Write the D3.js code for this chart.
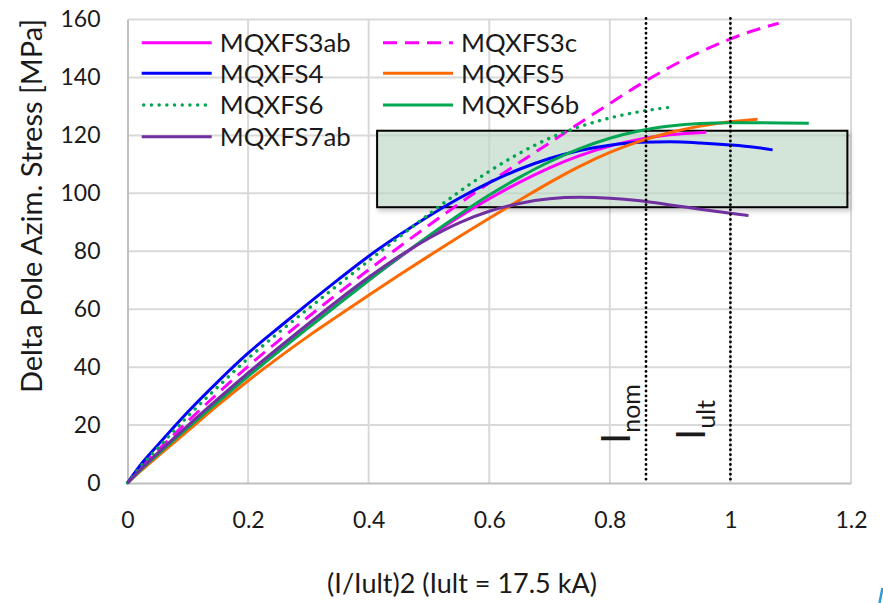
<!DOCTYPE html>
<html><head><meta charset="utf-8">
<script src="https://cdn.jsdelivr.net/npm/d3@7"></script>
<style>
body{margin:0;background:#fff;}
svg{display:block;font-family:Lato, "Open Sans", sans-serif;}
</style></head>
<body><svg id="c" width="883" height="603"></svg>
<script>
// ---- data ----
const xTicks = [0, 0.2, 0.4, 0.6, 0.8, 1, 1.2];
const yTicks = [0, 20, 40, 60, 80, 100, 120, 140, 160];
const seriesNames = ["MQXFS3ab","MQXFS3c","MQXFS4","MQXFS5","MQXFS6","MQXFS6b","MQXFS7ab"];

const MQXFS3ab = [[0,0],[0.02,4.2],[0.05,10],[0.1,19.3],[0.15,28.4],[0.2,37.3],[0.25,45.8],[0.3,54.1],[0.35,62.2],[0.4,70.1],[0.45,77.7],[0.5,85],[0.55,91.8],[0.6,98.1],[0.65,103.8],[0.7,108.8],[0.75,113],[0.8,116.3],[0.85,118.7],[0.9,120.2],[0.96,121.1]];
const MQXFS3c = [[0,0],[0.02,4.8],[0.05,11.2],[0.1,21.3],[0.15,31],[0.2,40.3],[0.25,49],[0.3,57.4],[0.35,65.6],[0.4,73.6],[0.45,81.4],[0.5,89],[0.55,96.4],[0.6,103.6],[0.65,110.6],[0.7,117.4],[0.75,124.3],[0.8,131],[0.85,137.6],[0.9,143.6],[0.95,148.8],[1.0,153.3],[1.04,156.3],[1.08,158.7]];
const MQXFS4 = [[0,0],[0.02,5.8],[0.05,13],[0.1,24.5],[0.15,35],[0.2,44.8],[0.25,53.5],[0.3,62],[0.35,70.3],[0.4,78.3],[0.45,85.5],[0.5,92.2],[0.55,98.3],[0.6,103.7],[0.65,108.3],[0.7,112],[0.75,114.8],[0.8,116.6],[0.85,117.6],[0.9,117.8],[0.95,117.4],[1.0,116.7],[1.04,115.9],[1.07,115]];
const MQXFS5 = [[0,0],[0.02,3.8],[0.05,9.2],[0.1,18],[0.15,26.9],[0.2,35.3],[0.25,43.2],[0.3,50.7],[0.35,57.8],[0.4,64.8],[0.45,71.7],[0.5,78.4],[0.55,85],[0.6,91.4],[0.65,97.6],[0.7,103.7],[0.75,109.3],[0.8,114.1],[0.85,118],[0.9,121],[0.95,123.2],[1.0,124.7],[1.045,125.6]];
const MQXFS6 = [[0,0],[0.02,5.2],[0.05,12],[0.1,23],[0.15,33.2],[0.2,43],[0.25,51.8],[0.3,60.2],[0.35,68.5],[0.4,76.7],[0.45,84.8],[0.5,92.8],[0.55,100.5],[0.6,107.6],[0.65,113.8],[0.7,119],[0.75,123],[0.8,126],[0.85,128.2],[0.9,129.7]];
const MQXFS6b = [[0,0],[0.02,4.1],[0.05,9.8],[0.1,19],[0.15,28],[0.2,36.8],[0.25,45.3],[0.3,53.6],[0.35,61.8],[0.4,69.9],[0.45,77.8],[0.5,85.4],[0.55,92.6],[0.6,99.4],[0.65,105.5],[0.7,110.9],[0.75,115.4],[0.8,119],[0.85,121.6],[0.9,123.2],[0.95,124.1],[1.0,124.4],[1.05,124.4],[1.13,124.2]];
const MQXFS7ab = [[0,0],[0.02,4.4],[0.05,10.3],[0.1,19.8],[0.15,29],[0.2,38],[0.25,46.6],[0.3,55],[0.35,63.2],[0.4,71],[0.45,78.2],[0.5,84.5],[0.55,89.8],[0.6,93.8],[0.65,96.5],[0.7,98.1],[0.75,98.6],[0.8,98.3],[0.85,97.4],[0.9,96],[0.95,94.5],[1.0,93.1],[1.03,92.3]];

const seriesData = [MQXFS3ab, MQXFS3c, MQXFS4, MQXFS5, MQXFS6, MQXFS6b, MQXFS7ab];
const seriesColors = ["#ff00ff","#ff00ff","#0000ff","#ff6a00","#00a651","#00a651","#7030a0"];
const seriesDash = [null,"14,8",null,null,"0.1,7.6",null,null];

const vLines = [0.86, 1.0];
const band = {x0:0.414, x1:1.194, y0:95.2, y1:121.6};

// ---- chart ----
const svg = d3.select("#c");
const x = d3.scaleLinear().domain([0,1.2]).range([127.5,851]);
const y = d3.scaleLinear().domain([0,160]).range([483,19.5]);

// gridlines
svg.append("g").selectAll("line").data(yTicks.slice(1)).join("line")
  .attr("x1",x(0)).attr("x2",x(1.2)).attr("y1",d=>y(d)).attr("y2",d=>y(d))
  .attr("stroke","#d9d9d9").attr("stroke-width",2);
svg.append("g").selectAll("line").data(xTicks.slice(1)).join("line")
  .attr("y1",y(0)).attr("y2",y(160)).attr("x1",d=>x(d)).attr("x2",d=>x(d))
  .attr("stroke","#d9d9d9").attr("stroke-width",2);

// axes
const xAxis = svg.append("g").attr("transform",`translate(0,${y(0)})`)
  .call(d3.axisBottom(x).tickValues(xTicks).tickSize(0).tickPadding(38).tickFormat(d3.format("")));
const yAxis = svg.append("g").attr("transform",`translate(${x(0)},0)`)
  .call(d3.axisLeft(y).tickValues(yTicks).tickSize(0).tickPadding(27));
[xAxis,yAxis].forEach(a=>{
  a.select(".domain").attr("stroke","#bfbfbf").attr("stroke-width",2);
  a.selectAll("text").attr("font-size",23).attr("fill","#1a1a1a").attr("font-family","Lato");
});
xAxis.selectAll("text").attr("dy","0.32em");

// shaded band
const defs = svg.append("defs");
const f = defs.append("filter").attr("id","sh").attr("x","-5%").attr("y","-20%").attr("width","115%").attr("height","150%");
f.append("feDropShadow").attr("dx",2).attr("dy",3).attr("stdDeviation",2).attr("flood-color","#000").attr("flood-opacity",0.25);
svg.append("rect")
  .attr("x",x(band.x0)).attr("y",y(band.y1))
  .attr("width",x(band.x1)-x(band.x0)).attr("height",y(band.y0)-y(band.y1))
  .attr("fill","#c5dfcc").attr("fill-opacity",0.6)
  .attr("stroke","#000").attr("stroke-width",2).attr("filter","url(#sh)");

// curves
const line = d3.line().x(d=>x(d[0])).y(d=>y(d[1])).curve(d3.curveMonotoneX);
svg.append("g").selectAll("path").data(seriesData).join("path")
  .attr("d",line).attr("fill","none")
  .attr("stroke",(d,i)=>seriesColors[i])
  .attr("stroke-width",(d,i)=>i===4?3.4:3)
  .attr("stroke-linecap",(d,i)=>i===4?"round":"butt")
  .attr("stroke-dasharray",(d,i)=>seriesDash[i]);

// vertical dotted lines
svg.append("g").selectAll("line").data(vLines).join("line")
  .attr("x1",d=>x(d)).attr("x2",d=>x(d)).attr("y1",y(160)-1).attr("y2",y(0))
  .attr("stroke","#000").attr("stroke-width",2.8).attr("stroke-linecap","round")
  .attr("stroke-dasharray","0.1,4.8");

// legend
const leg = svg.append("g");
const legPos = [[141.7,42.7],[383,42.7],[141.7,73.3],[383,73.3],[141.7,105],[383,105],[141.7,136.7]];
seriesNames.forEach((n,i)=>{
  const [lx,ly] = legPos[i];
  leg.append("line").attr("x1",i===4?lx+2:lx).attr("x2",lx+70).attr("y1",ly).attr("y2",ly)
    .attr("stroke",seriesColors[i]).attr("stroke-width",i===4?3.4:3)
    .attr("stroke-linecap",i===4?"round":"butt")
    .attr("stroke-dasharray",seriesDash[i]);
  leg.append("text").attr("x",lx+78).attr("y",ly).attr("dy","0.36em")
    .attr("font-size",25.8).attr("fill","#1a1a1a").text(n);
});

// axis titles
svg.append("text").attr("x",462).attr("y",583).attr("dy","0.36em").attr("text-anchor","middle")
  .attr("font-size",27).attr("fill","#1a1a1a").text("(I/Iult)2 (Iult = 17.5 kA)");
svg.append("text").attr("transform","translate(32,206) rotate(-90)").attr("dy","0.36em")
  .attr("text-anchor","middle").attr("font-size",29).attr("fill","#1a1a1a")
  .text("Delta Pole Azim. Stress [MPa]");

// annotations I_nom, I_ult
function ann(px,py,sub){
  const t = svg.append("text").attr("transform",`translate(${px},${py}) rotate(-90)`)
    .attr("fill","#1a1a1a");
  t.append("tspan").attr("font-size",40).text("I");
  t.append("tspan").attr("font-size",25).attr("dy",10).text(sub);
}
ann(630,444,"nom");
ann(705,440,"ult");

// small artifact at bottom-right edge
svg.append("line").attr("x1",879.5).attr("y1",603).attr("x2",882.5).attr("y2",588)
  .attr("stroke","#2e9bd6").attr("stroke-width",2.5);
</script></body></html>
